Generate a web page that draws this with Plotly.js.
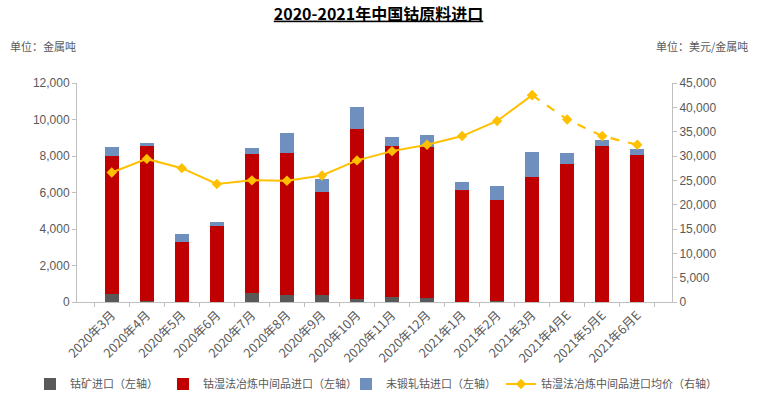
<!DOCTYPE html>
<html>
<head>
<meta charset="utf-8">
<script src="https://cdn.plot.ly/plotly-3.0.1.min.js"></script>
<style>html,body{margin:0;padding:0;background:#fff;}#chart{width:757px;height:397px;}</style>
</head>
<body>
<div id="chart"></div>
<script>
var categories = ['2020年3月','2020年4月','2020年5月','2020年6月','2020年7月','2020年8月','2020年9月','2020年10月','2020年11月','2020年12月','2021年1月','2021年2月','2021年3月','2021年4月E','2021年5月E','2021年6月E'];
var oreImports = [440, 50, 0, 0, 490, 380, 380, 180, 270, 220, 0, 50, 0, 0, 0, 0];
var intermediateImports = [7560, 8500, 3290, 4160, 7620, 7780, 5650, 9300, 8280, 8270, 6140, 5540, 6850, 7560, 8550, 8050];
var unwroughtImports = [490, 150, 440, 220, 330, 1100, 710, 1200, 490, 660, 440, 770, 1370, 600, 330, 330];
var avgPrice = [26600, 29400, 27500, 24250, 25000, 24900, 26000, 29100, 31000, 32300, 34100, 37200, 42500, 37500, 34100, 32300];
var actualCount = 13; // months up to 2021年3月 are actual, after are estimates

var FONT = 'Liberation Sans, Arial, "Noto Sans CJK SC", sans-serif';
var CJK = '"Noto Sans CJK SC", sans-serif';
var GRAY = '#595959';

var priceActualX = categories.slice(0, actualCount);
var priceActualY = avgPrice.slice(0, actualCount);
var priceEstX = categories.slice(actualCount - 1);
var priceEstY = avgPrice.slice(actualCount - 1);

var traces = [
  {type:'bar', name:'钴矿进口（左轴）', x:categories, y:oreImports, marker:{color:'#595959'}, legend:'legend'},
  {type:'bar', name:'钴湿法冶炼中间品进口（左轴）', x:categories, y:intermediateImports, marker:{color:'#C00000'}, legend:'legend'},
  {type:'bar', name:'未锻轧钴进口（左轴）', x:categories, y:unwroughtImports, marker:{color:'#6F8FBF'}, legend:'legend2'},
  {type:'scatter', mode:'lines+markers', name:'钴湿法冶炼中间品进口均价（右轴）', x:priceActualX, y:priceActualY, yaxis:'y2', legend:'legend2',
   line:{color:'#FFC000', width:2}, marker:{symbol:'diamond', size:8, color:'#FFC000'}},
  {type:'scatter', mode:'lines+markers', name:'均价预测', showlegend:false, x:priceEstX, y:priceEstY, yaxis:'y2',
   line:{color:'#FFC000', width:2.2, dash:'dash'}, marker:{symbol:'diamond', size:8, color:'#FFC000'}}
];

var legendBase = {orientation:'h', xref:'container', yref:'container', xanchor:'left', y:1-384/397, yanchor:'middle',
  font:{size:11, color:GRAY, family:CJK}, traceorder:'normal', bgcolor:'rgba(0,0,0,0)', itemwidth:30};

var layout = {
  width:757, height:397,
  margin:{l:77, r:85, t:83, b:95},
  paper_bgcolor:'#fff', plot_bgcolor:'#fff',
  barmode:'stack', bargap:0.6,
  font:{family:FONT, color:GRAY, size:12},
  title:{text:'<b><u>2020-2021年中国钴原料进口</u></b>', x:0.5, xref:'container', xanchor:'center', y:1-14/397, yref:'container', yanchor:'middle',
         font:{family:CJK, size:16, color:'#000'}},
  xaxis:{type:'category', tickangle:-45, tickfont:{size:12.5, color:GRAY, family:CJK},
         showline:true, linecolor:'#BFBFBF', linewidth:1, ticks:'outside', ticklen:4, tickcolor:'#BFBFBF', tickson:'boundaries',
         showgrid:false, zeroline:false, fixedrange:true, automargin:false},
  yaxis:{range:[0,12000], dtick:2000, tickformat:',', showline:true, linecolor:'#BFBFBF', linewidth:1,
         ticks:'outside', ticklen:4, tickcolor:'#BFBFBF', showgrid:false, zeroline:false, tickfont:{size:12, color:GRAY}, automargin:false},
  yaxis2:{range:[0,45000], dtick:5000, tickformat:',', overlaying:'y', side:'right', showline:true, linecolor:'#BFBFBF', linewidth:1,
          ticks:'outside', ticklen:4, tickcolor:'#BFBFBF', showgrid:false, zeroline:false, tickfont:{size:12, color:GRAY}, automargin:false},
  legend:Object.assign({}, legendBase, {x:30/757}),
  legend2:Object.assign({}, legendBase, {x:346/757}),
  annotations:[
    {text:'单位：金属吨', xref:'paper', yref:'paper', x:(8-77)/595, y:(302-46)/219, xanchor:'left', yanchor:'middle', showarrow:false,
     font:{size:11, color:GRAY, family:CJK}},
    {text:'单位：美元/金属吨', xref:'paper', yref:'paper', x:(750-77)/595, y:(302-46)/219, xanchor:'right', yanchor:'middle', showarrow:false,
     font:{size:11, color:GRAY, family:CJK}}
  ],
  showlegend:true
};

Plotly.newPlot('chart', traces, layout, {displayModeBar:false, staticPlot:true});
</script>
</body>
</html>
